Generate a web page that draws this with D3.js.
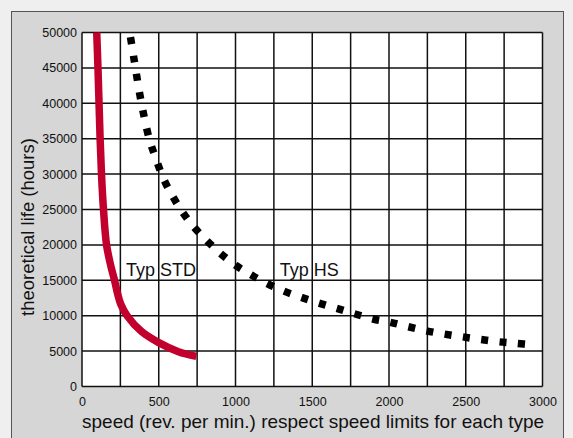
<!DOCTYPE html>
<head>
  <meta charset="utf-8">
  <script src="https://d3js.org/d3.v7.min.js"></script>
  <style>
    body { margin:0; background:#efefef; }
    text { font-family: "Liberation Sans", Arial, Helvetica, sans-serif; fill:#111; }
  </style>
</head>
<body>
<script>
  // speed (rev/min) vs theoretical life (hours)
  var stdSpeed = [96, 104, 111, 118, 127, 140, 160, 188, 212, 232, 252, 292, 389, 500, 628, 745];
  var stdLife  = [50000, 45000, 40000, 35000, 30000, 25000, 20000, 17000, 15000, 13100, 11650, 10050, 7740, 6200, 4920, 4250];

  var hsSpeed = [314, 340, 383, 439, 483, 528, 587, 650, 730, 818, 907, 1002, 1107, 1210, 1324, 1433, 1548,
                 1665, 1780, 1896, 2009, 2124, 2240, 2357, 2472, 2590, 2709, 2828, 2950];
  var hsLife  = [49600, 46100, 40500, 34900, 32100, 29500, 27000, 24800, 22500, 20500, 18700, 17100, 15700, 14500,
                 13400, 12550, 11750, 11000, 10240, 9530, 9060, 8450, 7880, 7420, 7040, 6660, 6330, 6100, 5850];

  var xTicks = [0, 500, 1000, 1500, 2000, 2500, 3000];
  var xGrid = d3.range(0, 3001, 250);
  var yTicks = d3.range(0, 50001, 5000);

  var labels = [
    {text: "Typ STD", speed: 515, life: 15600},
    {text: "Typ HS", speed: 1480, life: 15600}
  ];

  var W = 573, H = 438;
  var margin = {top: 32.5, right: 30.5, bottom: 51.5, left: 82};
  var width = W - margin.left - margin.right,
      height = H - margin.top - margin.bottom;

  var root = d3.select("body").append("svg")
    .attr("width", W)
    .attr("height", H);

  // grey panel
  root.append("rect")
    .attr("x", 11.5).attr("y", 11.5)
    .attr("width", 552).attr("height", 440)
    .attr("fill", "#d6d6d6")
    .attr("stroke", "#555")
    .attr("stroke-width", 1);

  var svg = root.append("g")
    .attr("transform", "translate(" + margin.left + "," + margin.top + ")");

  var x = d3.scaleLinear().domain([0, 3000]).range([0, width]);
  var y = d3.scaleLinear().domain([0, 50000]).range([height, 0]);

  svg.append("rect")
    .attr("width", width).attr("height", height)
    .attr("fill", "#fff");

  // grid
  svg.append("g").selectAll("line").data(xGrid).enter()
    .append("line")
    .attr("x1", function(d) { return x(d); })
    .attr("x2", function(d) { return x(d); })
    .attr("y1", 0).attr("y2", height)
    .attr("stroke", "#111").attr("stroke-width", 1.5);

  svg.append("g").selectAll("line").data(yTicks).enter()
    .append("line")
    .attr("y1", function(d) { return y(d); })
    .attr("y2", function(d) { return y(d); })
    .attr("x1", 0).attr("x2", width)
    .attr("stroke", "#111").attr("stroke-width", 1.5);

  // axes (labels only)
  var xAxis = svg.append("g")
    .attr("transform", "translate(0," + height + ")")
    .call(d3.axisBottom(x).tickValues(xTicks).tickSize(0).tickPadding(11).tickFormat(d3.format("d")));
  var yAxis = svg.append("g")
    .call(d3.axisLeft(y).tickValues(yTicks).tickSize(0).tickPadding(5).tickFormat(d3.format("d")));
  [xAxis, yAxis].forEach(function(a) {
    a.select(".domain").remove();
    a.selectAll("text")
      .style("font-family", "'Liberation Sans', Arial, sans-serif")
      .style("font-size", "12.5px")
      .attr("fill", "#111");
  });

  // curves
  var line = d3.line()
    .x(function(d) { return x(d[0]); })
    .y(function(d) { return y(d[1]); })
    .curve(d3.curveCatmullRom.alpha(0.5));

  svg.append("path")
    .datum(d3.zip(stdSpeed, stdLife))
    .attr("d", line)
    .attr("fill", "none")
    .attr("stroke", "#c2002d")
    .attr("stroke-width", 7.5);

  svg.append("path")
    .datum(d3.zip(hsSpeed, hsLife))
    .attr("d", line)
    .attr("fill", "none")
    .attr("stroke", "#000")
    .attr("stroke-width", 7.5)
    .attr("stroke-dasharray", "7,11.5")
    .attr("stroke-dashoffset", -2);

  svg.selectAll(".lbl").data(labels).enter()
    .append("text")
    .attr("class", "lbl")
    .attr("x", function(d) { return x(d.speed); })
    .attr("y", function(d) { return y(d.life); })
    .attr("text-anchor", "middle")
    .style("font-size", "18px")
    .text(function(d) { return d.text; });

  // axis titles
  svg.append("text")
    .attr("x", 0)
    .attr("y", height + 41)
    .style("font-size", "19px")
    .text("speed (rev. per min.) respect speed limits for each type");

  svg.append("text")
    .attr("transform", "rotate(-90)")
    .attr("x", -(227 - margin.top))
    .attr("y", 28 - margin.left + 6)
    .attr("text-anchor", "middle")
    .style("font-size", "18.5px")
    .text("theoretical life (hours)");
</script>
</body>
